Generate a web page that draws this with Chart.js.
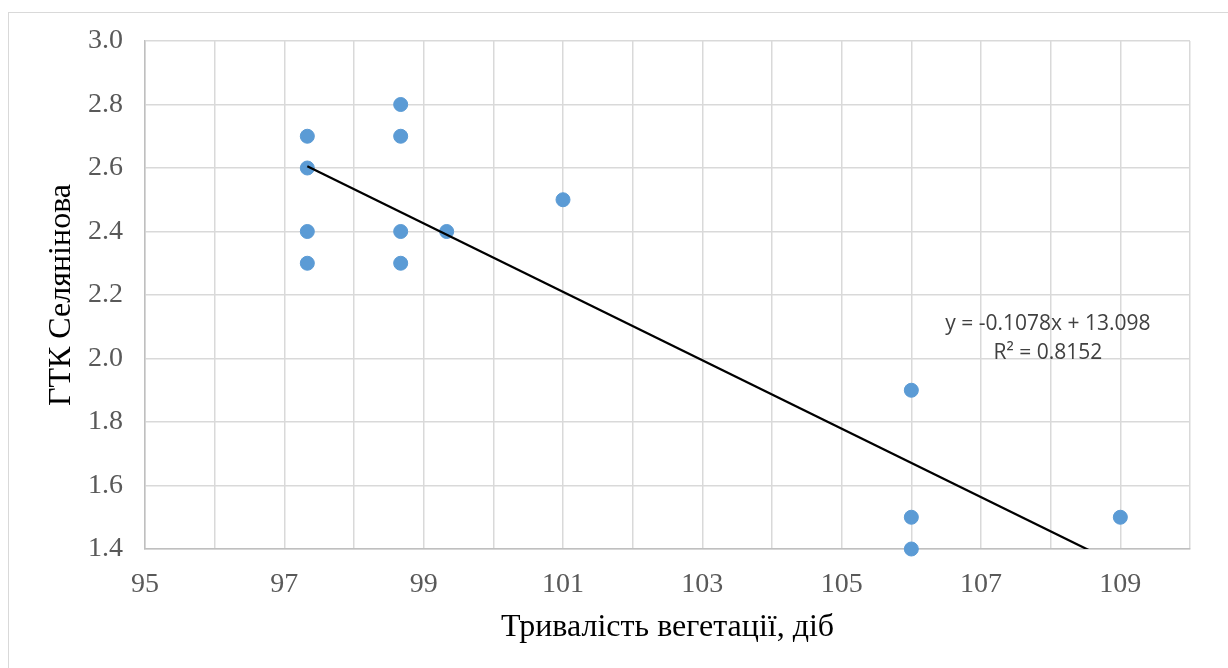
<!DOCTYPE html>
<html>
<head>
<meta charset="utf-8">
<script src="https://cdn.jsdelivr.net/npm/chart.js@4"></script>
<style>
  html, body { margin: 0; padding: 0; background: #ffffff; }
  #wrap { position: relative; width: 1228px; height: 668px; }
</style>
</head>
<body>
<div id="wrap"><canvas id="scatterChart"></canvas></div>
<script>
// Тривалість вегетації (діб) і ГТК Селянінова
const vegDays = [97.33, 97.33, 97.33, 97.33, 98.67, 98.67, 98.67, 98.67, 99.33, 101, 106, 106, 106, 109];
const gtkValues = [2.7, 2.6, 2.4, 2.3, 2.8, 2.7, 2.4, 2.3, 2.4, 2.5, 1.9, 1.5, 1.4, 1.5];

// linear trend from Excel
const trendSlope = -0.1078;
const trendIntercept = 13.098;
const trendLabel = ['y = -0.1078x + 13.098', 'R² = 0.8152'];
const trendLabelAt = { x: 107.96, y: 2.066 };

const xTitle = 'Тривалість вегетації, діб';
const yTitle = 'ГТК Селянінова';

const points = vegDays.map((d, i) => ({ x: d, y: gtkValues[i] }));
const xFrom = Math.min(...vegDays);
const xTo = Math.max(...vegDays);
const trendPoints = [
    { x: xFrom, y: trendSlope * xFrom + trendIntercept },
    { x: xTo, y: trendSlope * xTo + trendIntercept }
];

// outer frame like the Excel chart area
const framePlugin = {
    id: 'frame',
    beforeDraw(chart) {
        const c = chart.ctx;
        c.save();
        c.fillStyle = '#ffffff';
        c.fillRect(0, 0, chart.width, chart.height);
        c.strokeStyle = '#d9d9d9';
        c.lineWidth = 1;
        c.strokeRect(8.5, 12.5, chart.width + 20, chart.height + 20);
        c.restore();
    }
};

// equation text of the trend line
const trendTextPlugin = {
    id: 'trendText',
    afterDatasetsDraw(chart) {
        const c = chart.ctx;
        const x = chart.scales.x.getPixelForValue(trendLabelAt.x);
        const y = chart.scales.y.getPixelForValue(trendLabelAt.y);
        c.save();
        c.font = '21px "Open Sans", sans-serif';
        c.fillStyle = '#404040';
        c.textAlign = 'center';
        c.textBaseline = 'middle';
        c.fillText(trendLabel[0], x, y - 14);
        c.fillText(trendLabel[1], x, y + 15);
        c.restore();
    }
};

const tickFont = { family: '"Liberation Serif", "Times New Roman", serif', size: 28 };
const titleFont = { family: '"Liberation Serif", "Times New Roman", serif', size: 32 };

new Chart(document.getElementById('scatterChart'), {
    type: 'scatter',
    data: {
        datasets: [
            {
                label: 'ГТК',
                data: points,
                backgroundColor: '#5b9bd5',
                borderColor: '#5b9bd5',
                pointRadius: 7,
                pointHoverRadius: 7,
                clip: false,
                order: 2
            },
            {
                label: 'Лінійна',
                type: 'line',
                data: trendPoints,
                borderColor: '#000000',
                borderWidth: 2.25,
                pointRadius: 0,
                fill: false,
                order: 1
            }
        ]
    },
    options: {
        responsive: true,
        maintainAspectRatio: false,
        animation: false,
        layout: { padding: { left: 0, top: 41, right: 38, bottom: 0 } },
        plugins: {
            legend: { display: false },
            tooltip: { enabled: false }
        },
        scales: {
            x: {
                type: 'linear',
                min: 95,
                max: 110,
                afterFit(axis) { axis.height = 119; },
                ticks: {
                    stepSize: 1,
                    autoSkip: false,
                    maxRotation: 0,
                    padding: 19,
                    color: '#595959',
                    font: tickFont,
                    callback: v => (v % 2 === 1 && v < 110) ? String(v) : ''
                },
                grid: { color: '#d9d9d9', lineWidth: 1.5, drawTicks: false },
                border: { color: '#bfbfbf', width: 1.5 },
                title: {
                    display: true,
                    text: xTitle,
                    color: '#000000',
                    font: titleFont,
                    padding: { top: 0, bottom: 21 }
                }
            },
            y: {
                min: 1.4,
                max: 3.0,
                afterFit(axis) { axis.width = 145; },
                ticks: {
                    stepSize: 0.2,
                    padding: 22,
                    color: '#595959',
                    font: tickFont,
                    callback: v => v.toFixed(1)
                },
                grid: { color: '#d9d9d9', lineWidth: 1.5, drawTicks: false },
                border: { color: '#bfbfbf', width: 1.5 },
                title: {
                    display: true,
                    text: yTitle,
                    color: '#000000',
                    font: titleFont,
                    padding: { top: 42, bottom: 0 }
                }
            }
        }
    },
    plugins: [framePlugin, trendTextPlugin]
});
</script>
</body>
</html>
